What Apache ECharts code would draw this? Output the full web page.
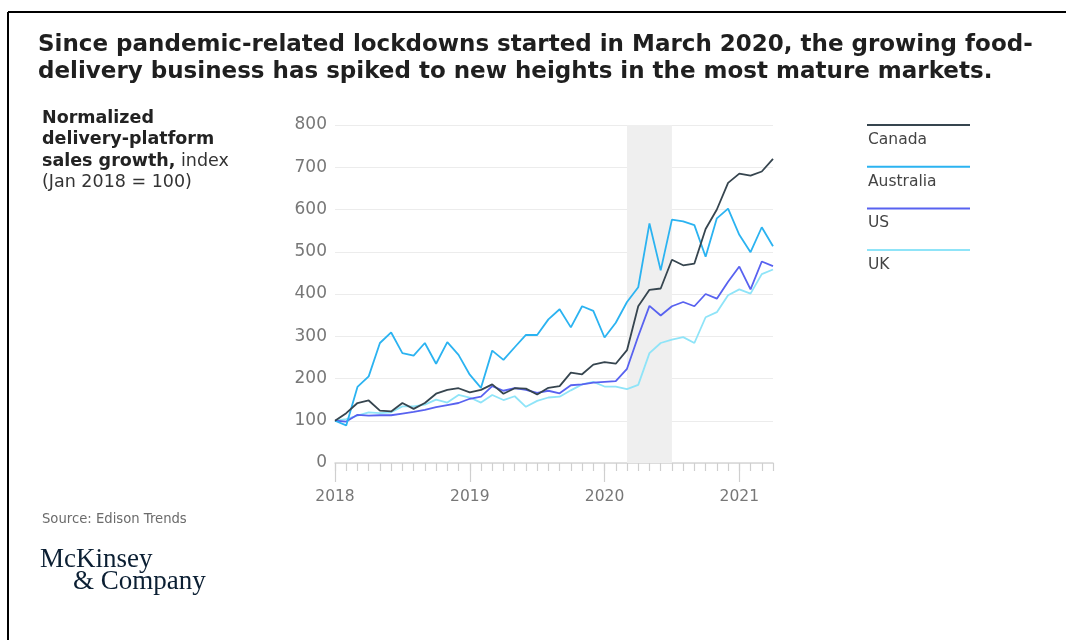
<!DOCTYPE html>
<html>
<head>
<meta charset="utf-8">
<script src="https://cdn.jsdelivr.net/npm/echarts@6/dist/echarts.min.js"></script>
<style>
html,body{margin:0;padding:0;background:#fff;}
#chart{width:1066px;height:640px;}
</style>
</head>
<body>
<div id="chart"></div>
<script>
// ---- data ----
const months = [
  '2018-01','2018-02','2018-03','2018-04','2018-05','2018-06','2018-07','2018-08','2018-09','2018-10','2018-11','2018-12',
  '2019-01','2019-02','2019-03','2019-04','2019-05','2019-06','2019-07','2019-08','2019-09','2019-10','2019-11','2019-12',
  '2020-01','2020-02','2020-03','2020-04','2020-05','2020-06','2020-07','2020-08','2020-09','2020-10','2020-11','2020-12',
  '2021-01','2021-02','2021-03','2021-04'
];
const yearLabels = ['2018','2019','2020','2021'];
const seriesNames = ['Canada','Australia','US','UK'];
const canada = [100,118,142,148,124,122,142,128,142,164,173,177,167,173,186,164,177,176,162,178,182,214,210,233,239,235,267,371,410,413,481,468,472,554,600,663,685,680,690,720];
const australia = [100,89,180,205,284,309,260,254,284,235,286,256,209,178,266,244,274,303,303,340,364,321,371,360,297,332,381,416,567,456,576,572,563,488,579,602,540,499,558,513];
const us = [100,98,114,112,113,113,117,121,126,132,137,142,152,157,182,171,177,173,166,171,165,184,186,190,192,194,223,300,372,349,371,381,371,400,389,429,465,411,477,466];
const uk = [100,104,112,120,118,120,134,134,138,150,143,161,155,143,161,149,158,133,147,155,157,172,186,192,181,181,175,185,260,284,292,298,284,345,357,397,411,401,447,458];
const lockdownStart = '2020-03';
const lockdownEnd = '2020-07';
const yTicks = [0,100,200,300,400,500,600,700,800];

// ---- styles ----
const colors = ['#36454f','#2bb3f1','#5862f0','#8fe4f8'];
const F = '"DejaVu Sans", sans-serif';
const seriesData = [canada, australia, us, uk];

const chart = echarts.init(document.getElementById('chart'), null, {renderer:'canvas'});

const series = seriesNames.map((n, k) => ({
  name: n, type: 'line', data: seriesData[k], xAxisIndex: 0,
  symbol: 'none', smooth: false,
  lineStyle: {color: colors[k], width: 1.8},
  itemStyle: {color: colors[k]},
  z: 10 - k,
  markArea: k === 0 ? {
    silent: true,
    itemStyle: {color: '#efefef'},
    data: [[{xAxis: lockdownStart}, {xAxis: lockdownEnd}]]
  } : undefined
}));

const mid = {verticalAlign:'middle', textVerticalAlign:'middle'};
const graphics = [
  {type:'line', shape:{x1:8,y1:12,x2:1066,y2:12}, style:{stroke:'#000',lineWidth:2}},
  {type:'line', shape:{x1:8,y1:12,x2:8,y2:640}, style:{stroke:'#000',lineWidth:2}},
  {type:'text', x:38, y:45, style:Object.assign({text:'Since pandemic-related lockdowns started in March 2020, the growing food-', font:'bold 23px '+F, fill:'#1f1f1f'}, mid)},
  {type:'text', x:38, y:72, style:Object.assign({text:'delivery business has spiked to new heights in the most mature markets.', font:'bold 23px '+F, fill:'#1f1f1f'}, mid)},
  {type:'text', x:42, y:118, style:Object.assign({text:'Normalized', font:'bold 17.5px '+F, fill:'#222'}, mid)},
  {type:'text', x:42, y:139.5, style:Object.assign({text:'delivery-platform', font:'bold 17.5px '+F, fill:'#222'}, mid)},
  {type:'text', x:42, y:161, style:Object.assign({text:'{b|sales growth,}{r| index}',
     rich:{b:{font:'bold 17.5px '+F, fill:'#222'}, r:{font:'17.5px '+F, fill:'#333'}}}, mid)},
  {type:'text', x:42, y:182.5, style:Object.assign({text:'(Jan 2018 = 100)', font:'17.5px '+F, fill:'#333'}, mid)},
  {type:'text', x:42, y:520, style:Object.assign({text:'Source: Edison Trends', font:'13.2px '+F, fill:'#6b6b6b'}, mid)},
  {type:'text', x:40, y:560, style:Object.assign({text:'McKinsey', font:'27px "Liberation Serif", serif', fill:'#0b1f33'}, mid)},
  {type:'text', x:73, y:582, style:Object.assign({text:'& Company', font:'27px "Liberation Serif", serif', fill:'#0b1f33'}, mid)}
];
seriesNames.forEach((n, k) => {
  const yy = 125 + 41.7 * k;
  graphics.push({type:'line', shape:{x1:867,y1:yy,x2:970,y2:yy}, style:{stroke:colors[k], lineWidth:2}});
  graphics.push({type:'text', x:868, y:yy + 15, style:Object.assign({text:n, font:'15.5px '+F, fill:'#444'}, mid)});
});

chart.setOption({
  animation: false,
  backgroundColor: '#fff',
  grid: {left: 335, right: 293, top: 125, bottom: 177, containLabel: false},
  xAxis: [
    {
      type: 'category', data: months, boundaryGap: false, position: 'bottom',
      axisLine: {show: true, lineStyle: {color: '#d6d6d6', width: 1.5}},
      axisTick: {show: true, interval: 0, length: 8, lineStyle: {color: '#cfcfcf', width: 1.2}},
      axisLabel: {show: false},
      splitLine: {show: false}
    },
    {
      type: 'category', data: months, boundaryGap: false, position: 'bottom',
      axisLine: {show: false},
      axisTick: {show: true, interval: (i) => i % 12 === 0, length: 19, lineStyle: {color: '#cfcfcf', width: 1.2}},
      axisLabel: {show: true, interval: (i) => i % 12 === 0, margin: 26,
        formatter: (v) => yearLabels.indexOf(v.slice(0,4)) >= 0 ? v.slice(0,4) : '',
        color: '#777', fontSize: 15.5, fontFamily: F},
      splitLine: {show: false}
    }
  ],
  yAxis: {
    type: 'value', min: yTicks[0], max: yTicks[yTicks.length-1], interval: 100,
    axisLine: {show: false}, axisTick: {show: false},
    axisLabel: {color: '#777', fontSize: 17, fontFamily: F, margin: 8},
    splitLine: {lineStyle: {color: '#ececec', width: 1.2}}
  },
  series: series,
  graphic: graphics
});
</script>
</body>
</html>
